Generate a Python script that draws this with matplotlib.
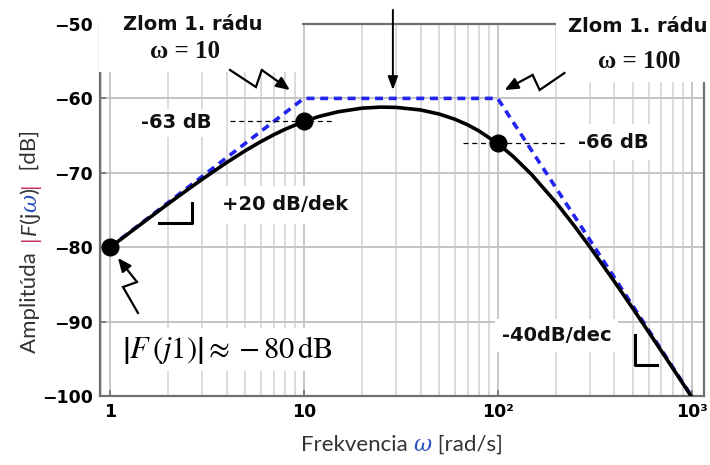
import matplotlib
matplotlib.use("Agg")
import matplotlib.pyplot as plt
from matplotlib.patches import Rectangle

# Frequency response |F(jw)| in dB, read at chosen frequencies
omega = [1, 1.2, 1.5, 2, 2.5, 3, 4, 5, 6, 7, 8, 10, 12, 15, 20, 25, 30, 40, 50,
         60, 70, 80, 100, 120, 150, 200, 250, 300, 400, 500, 600, 700, 800, 1000]
mag_db = [-80.04, -78.48, -76.58, -74.15, -72.31, -70.84, -68.62, -67.01, -65.81,
          -64.88, -64.15, -63.10, -62.42, -61.80, -61.31, -61.17, -61.21, -61.55,
          -62.11, -62.79, -63.55, -64.37, -66.06, -67.78, -70.26, -73.99, -77.22,
          -80.01, -84.62, -88.30, -91.37, -93.98, -96.26, -100.09]

# Straight-line (asymptotic) approximation
asym_omega = [1, 10, 100, 1000]
asym_db = [-80, -60, -60, -100]

# Highlighted points
pts_omega = [1, 10, 100]
pts_db = [-80, -63, -66]

xticks = [1, 10, 100, 1000]
xtick_labels = ["1", "10", "10\u00b2", "10\u00b3"]
yticks = [-100, -90, -80, -70, -60, -50]

plt.rcParams["mathtext.fontset"] = "stix"

fig = plt.figure(figsize=(7.1, 4.65), dpi=100)
ax = fig.add_axes([100 / 710, 1 - 396 / 465, 604 / 710, 372 / 465])

ax.set_xscale("log")
ax.set_xlim(0.888, 1160)
ax.set_ylim(-100, -50)

ax.set_xticks(xticks)
ax.set_xticklabels(xtick_labels, fontsize=12.5, fontweight="bold")
ax.set_yticks(yticks)
ax.set_yticklabels([f"\u2212{abs(v)}" for v in yticks], fontsize=12.5, fontweight="bold")
ax.tick_params(which="major", direction="in", length=4, width=1.2, color="#707070", pad=5)
ax.tick_params(which="minor", length=0)

ax.grid(True, which="minor", axis="x", color="#dadada", lw=1.4)
ax.grid(True, which="major", axis="x", color="#c8c8c8", lw=1.4)
ax.grid(True, which="major", axis="y", color="#c4c4c4", lw=1.4)
ax.set_axisbelow(True)
for sp in ax.spines.values():
    sp.set_color("#707070")
    sp.set_linewidth(1.6)

ax.plot(asym_omega, asym_db, color="#2424f0", lw=2.6, ls=(0, (2.2, 1.6)), zorder=3)
ax.plot(omega, mag_db, color="black", lw=2.6, zorder=4, solid_capstyle="butt")
ax.plot(pts_omega, pts_db, "o", color="black", ms=12, zorder=6, clip_on=False)

# dashed level markers
ax.plot([4.16, 13.9], [-63, -63], color="black", lw=0.9, ls=(0, (4, 3)), zorder=5)
ax.plot([66, 227], [-66, -66], color="black", lw=0.9, ls=(0, (4, 3)), zorder=5)

# slope corner marks
ax.plot([1.79, 2.65, 2.65], [-76.75, -76.75, -74.06], color="black", lw=2.2, zorder=5)
ax.plot([514, 514, 660], [-91.8, -95.83, -95.83], color="black", lw=2.2, zorder=5)

# blank areas behind the corner-frequency headings (over grid and frame, under arrows)
for x0, y0, w, h in [(99, 0, 203, 72), (556, 0, 154, 82)]:
    ax.add_patch(Rectangle((x0 / 710, 1 - (y0 + h) / 465), w / 710, h / 465,
                           transform=fig.transFigure, facecolor="white",
                           edgecolor="none", zorder=2.8, clip_on=False))

box = dict(facecolor="white", edgecolor="none", pad=3)
bold = dict(fontsize=14, fontweight="bold", family="DejaVu Sans", color="#111111")
ax.text(2.19, -63.3, "-63 dB", ha="center", va="center", bbox=box, zorder=7, **bold)
ax.text(396, -65.9, "-66 dB", ha="center", va="center",
        bbox=dict(facecolor="white", edgecolor="none", pad=6), zorder=7, **bold)
ax.text(7.98, -74.3, "+20 dB/dek", ha="center", va="center",
        bbox=dict(facecolor="white", edgecolor="none", pad=7), zorder=7, **bold)
ax.text(201, -91.9, "-40dB/dec", ha="center", va="center",
        bbox=dict(facecolor="white", edgecolor="none", pad=5), zorder=7, **bold)
ax.text(4.06, -93.8, r"$\left|F\,(j1)\right| \approx -80\,\mathrm{dB}$", ha="center",
        va="center", fontsize=22, bbox=dict(facecolor="white", edgecolor="none", pad=4),
        zorder=7)


def zigzag(xs, ys):
    # broken "lightning" arrow: plain segments then an arrowhead on the last one
    ax.plot(xs[:-1], ys[:-1], color="black", lw=1.6, zorder=8, clip_on=False,
            solid_joinstyle="miter")
    ax.annotate("", xy=(xs[-1], ys[-1]), xytext=(xs[-2], ys[-2]),
                arrowprops=dict(arrowstyle="-|>,head_length=0.8,head_width=0.35",
                                color="black", lw=1.6, shrinkA=0, shrinkB=0),
                annotation_clip=False, zorder=8)


zigzag([4.16, 5.66, 6.07, 8.47], [-56.18, -58.47, -56.18, -58.87])
zigzag([221, 164.6, 151.5, 108.7], [-56.59, -58.87, -56.85, -58.87])
zigzag([1.394, 1.167, 1.378, 1.099], [-88.84, -85.35, -84.68, -81.45])
ax.annotate("", xy=(28.8, -58.87), xytext=(28.8, -48.1),
            arrowprops=dict(arrowstyle="-|>,head_length=0.8,head_width=0.3",
                            color="black", lw=1.4, shrinkA=0, shrinkB=0),
            annotation_clip=False, zorder=8)

fig.text(193 / 710, 1 - 25 / 465, "Zlom 1. rádu", ha="center", va="center", **bold)
fig.text(185 / 710, 1 - 52 / 465, "ω = 10", ha="center", va="center",
         fontsize=18, fontweight="bold", family="Liberation Serif", color="#111111")
fig.text(708 / 710, 1 - 27 / 465, "Zlom 1. rádu", ha="right", va="center", **bold)
fig.text(639 / 710, 1 - 62 / 465, "ω = 100", ha="center", va="center",
         fontsize=18, fontweight="bold", family="Liberation Serif", color="#111111")

renderer = fig.canvas.get_renderer()
label_font = dict(family="Lato", fontsize=16)

# x axis label built from pieces so the omega can be coloured
xpos = 301 / 710
for s, kw in [("Frekvencia ", dict(color="#333333")),
              ("ω", dict(color="#2a52be", style="italic", family="DejaVu Serif")),
              (" [rad/s]", dict(color="#333333"))]:
    opts = dict(label_font)
    opts.update(kw)
    t = fig.text(xpos, 1 - 445 / 465, s, ha="left", va="center", **opts)
    xpos += t.get_window_extent(renderer).width / fig.bbox.width

# y axis label, rotated, same idea
ypos = 1 - 353 / 465
for s, kw in [("Amplitúda  ", dict(color="#333333")),
              ("|", dict(color="#c0306a")),
              ("F", dict(color="#333333", style="italic")),
              ("(j", dict(color="#333333")),
              ("ω", dict(color="#2a52be", style="italic", family="DejaVu Serif")),
              (")", dict(color="#333333")),
              ("|", dict(color="#c0306a")),
              ("  [dB]", dict(color="#333333"))]:
    opts = dict(label_font)
    opts.update(kw)
    t = fig.text(30 / 710, ypos, s, rotation=90, ha="center", va="bottom", **opts)
    ypos += t.get_window_extent(renderer).height / fig.bbox.height

fig.savefig("out.png", dpi=100)
plt.close(fig)
